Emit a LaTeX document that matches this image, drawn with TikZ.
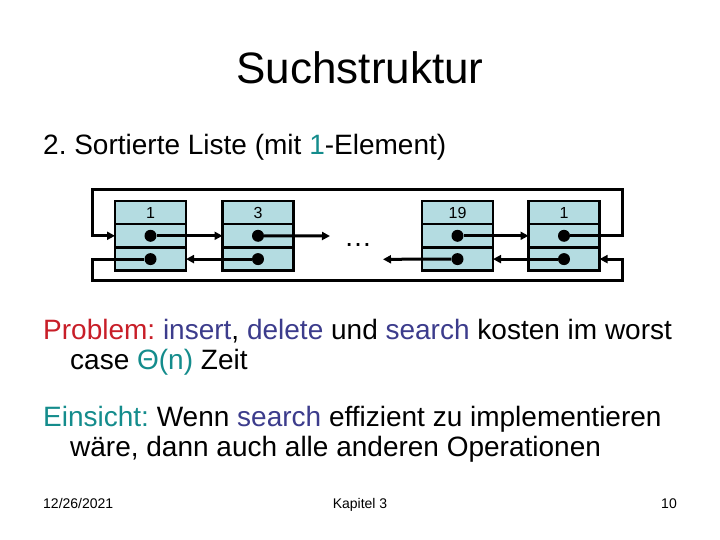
\documentclass[tikz,border=0pt]{standalone}
\usepackage{fontspec}
\setmainfont{Liberation Sans}
\usetikzlibrary{arrows.meta, positioning}
\definecolor{zelle}{RGB}{180,220,225}
\definecolor{rot}{RGB}{200,30,40}
\definecolor{blau}{RGB}{60,60,140}
\definecolor{tuerkis}{RGB}{20,140,140}
\frenchspacing

\begin{document}
\begin{tikzpicture}[
  x=1pt, y=-1pt,
  cell/.style={draw, line width=2.6pt, fill=zelle, minimum width=71pt,
               minimum height=23.3pt, inner sep=0pt, outer sep=0pt,
               font=\fontsize{16}{18}\selectfont},
  dot/.style={circle, fill=black, minimum size=12pt, inner sep=0pt},
  ptr/.style={line width=3pt, -{Triangle[length=8pt,width=8pt]}},
  txt/.style={anchor=base west, inner sep=0pt, align=left,
              font=\fontsize{28}{30}\selectfont},
  foot/.style={anchor=base, inner sep=0pt, font=\fontsize{14}{16}\selectfont}
]
  \useasboundingbox (0,0) rectangle (720,540);

  \node[anchor=base, inner sep=0pt, font=\fontsize{44}{48}\selectfont] (title) at (360,84) {Suchstruktur};
  \node[txt] (sub) at (43,155) {2. Sortierte Liste (mit \textcolor{tuerkis}{1}-Element)};

  % Listenelemente: Schluessel, next, prev
  \foreach \k/\x/\lab in {a/150.5/1, b/258/3, c/457.5/19, d/564/1} {
    \node[cell] (\k-key) at (\x,212.5) {\lab};
    \node[cell, below=0pt of \k-key] (\k-nxt) {};
    \node[cell, below=0pt of \k-nxt] (\k-prv) {};
    \node[dot] (\k-n) at (\k-nxt) {};
    \node[dot] (\k-p) at (\k-prv) {};
  }
  \node[anchor=base, inner sep=0pt, font=\fontsize{28}{30}\selectfont] (gap) at (358,247) {…};

  \coordinate (bout) at (330,236);
  \coordinate (cin) at (383,259.3);
  \coordinate (tl) at (92,190);
  \coordinate (tr) at (622,190);
  \coordinate (bl) at (92,280);
  \coordinate (br) at (622,280);

  \draw[ptr] (a-n) -- (b-nxt.west);
  \draw[ptr] (b-n) -- (bout);
  \draw[ptr] (c-n) -- (d-nxt.west);
  \draw[ptr] (b-p) -- (a-prv.east);
  \draw[ptr] (c-p) -- (cin);
  \draw[ptr] (d-p) -- (c-prv.east);
  \draw[ptr] (d-n) -| (tr) -- (tl) |- (a-nxt.west);
  \draw[ptr] (a-p) -| (bl) -- (br) |- (d-prv.east);

  \node[txt] (problem) at (43,369) {\textcolor{rot}{Problem:} \textcolor{blau}{insert}, \textcolor{blau}{delete} und \textcolor{blau}{search} kosten im worst\\
    \hspace*{27pt}case \textcolor{tuerkis}{Θ(n)} Zeit};
  \node[txt] (einsicht) at (43,456) {\textcolor{tuerkis}{Einsicht:} Wenn \textcolor{blau}{search} effizient zu implementieren\\
    \hspace*{27pt}wäre, dann auch alle anderen Operationen};

  \node[foot, anchor=base west] (datum) at (43,508) {12/26/2021};
  \node[foot] (kapitel) at (360,508) {Kapitel 3};
  \node[foot, anchor=base east] (seite) at (677,508) {10};
\end{tikzpicture}
\end{document}
